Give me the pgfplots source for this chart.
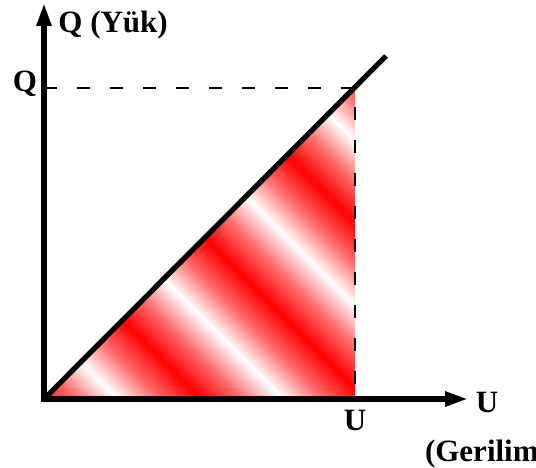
\documentclass[border=0pt]{standalone}
\usepackage{pgfplots}
\pgfplotsset{compat=1.18}
\usepackage{fontspec}
\setmainfont{Liberation Serif}
\usetikzlibrary{arrows.meta}
\colorlet{midred}{red!58!white}
\pgfdeclarehorizontalshading{redstripes}{100bp}{color(0bp)=(red!45!white); color(4.1bp)=(white); color(8.8bp)=(midred); color(13.5bp)=(red); color(18.2bp)=(midred); color(22.9bp)=(white); color(27.65bp)=(midred); color(32.4bp)=(red); color(37.1bp)=(midred); color(41.8bp)=(white); color(46.5bp)=(midred); color(51.2bp)=(red); color(55.9bp)=(midred); color(60.65bp)=(white); color(65.4bp)=(midred); color(70.1bp)=(red); color(74.8bp)=(midred); color(79.5bp)=(white); color(84.25bp)=(midred); color(89bp)=(red); color(93.65bp)=(midred); color(98.3bp)=(white); color(100bp)=(white)}
\newcommand{\lblfont}{\fontsize{15.5}{24.5}\selectfont\bfseries}
\begin{document}
\begin{tikzpicture}
\begin{axis}[
  x=0.5pt, y=0.5pt,
  xmin=0, xmax=424, ymin=0, ymax=396,
  enlargelimits=false,
  axis lines=left,
  axis line style={line width=2.75pt, line cap=rect, -{Triangle[length=11.5pt,width=7pt]}},
  axis on top,
  clip=false,
  xtick={311}, xticklabels={U},
  ytick={311}, yticklabels={Q},
  major tick length=0pt,
  tick label style={font=\lblfont},
  xticklabel style={yshift=-2pt},
  yticklabel style={yshift=2pt},
]
% shaded triangle (energy area)
\addplot[draw=none, shading=redstripes, shading angle=45] coordinates {(0,0) (311,311) (311,0)} -- cycle;
% dashed guide lines
\addplot[black, line width=0.75pt, dash pattern=on 6.5pt off 10pt] coordinates {(0,311) (311,311) (311,0)};
% Q-U line
\addplot[black, line width=2.6pt] coordinates {(0,0) (342,343)};
\node[anchor=base west, inner sep=0pt, font=\lblfont] at (axis cs:14,366) {Q (Yük)};
\node[anchor=north, inner sep=0pt, align=center, font=\lblfont] at (axis cs:443,7) {U\\(Gerilim)};
\coordinate (bl) at (axis cs:-44,-68);
\coordinate (tr) at (axis cs:492,399);
\end{axis}
\pgfresetboundingbox
\path[use as bounding box] (bl) rectangle (tr);
\end{tikzpicture}
\end{document}
